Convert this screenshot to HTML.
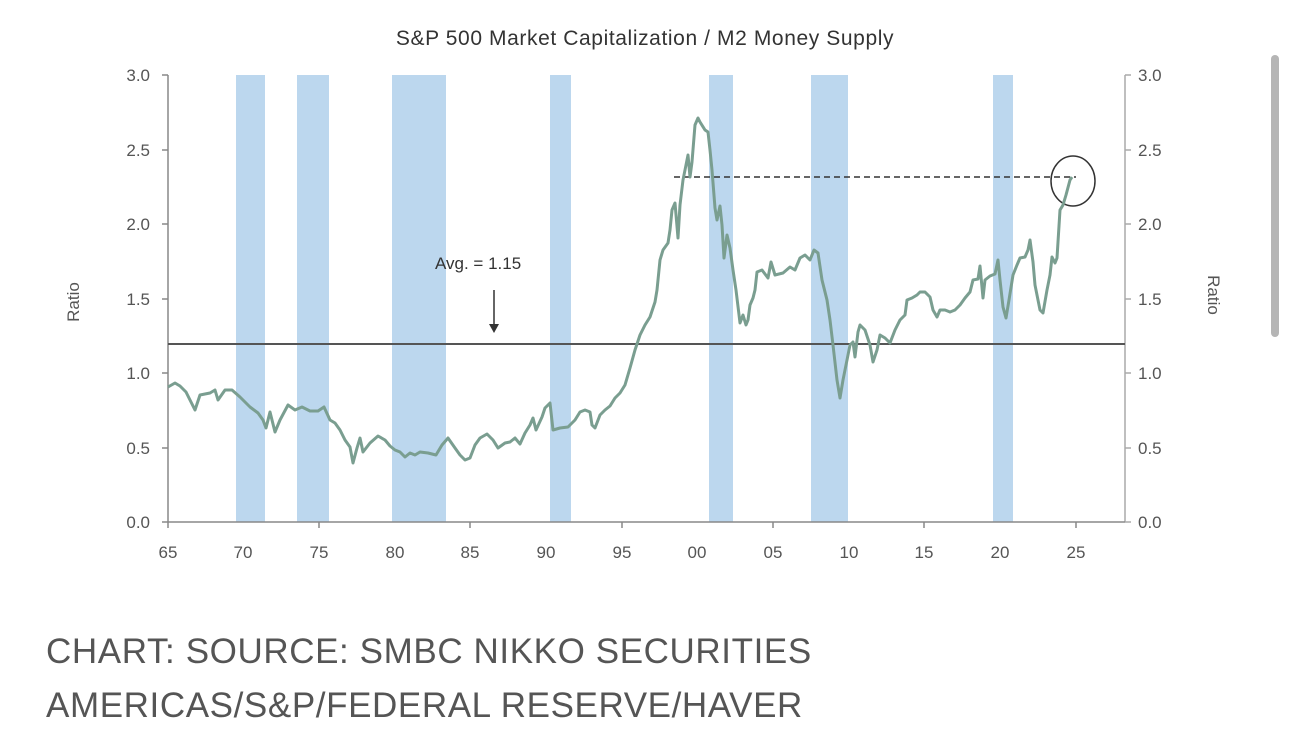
<!DOCTYPE html>
<html><head><style>
body{margin:0;width:1290px;height:733px;background:#fff;overflow:hidden;font-family:"Liberation Sans",sans-serif;}
.cap{position:absolute;left:46px;font-size:35px;color:#555;letter-spacing:0.6px;}
</style></head><body>
<svg width="1290" height="733" style="position:absolute;left:0;top:0" font-family="Liberation Sans, sans-serif">
<text x="645" y="45" text-anchor="middle" font-size="21" letter-spacing="0.6" fill="#333">S&amp;P 500 Market Capitalization / M2 Money Supply</text>
<g fill="#bcd7ee">
<rect x="236" y="75" width="29" height="447"/>
<rect x="297" y="75" width="32" height="447"/>
<rect x="392" y="75" width="54" height="447"/>
<rect x="550" y="75" width="21" height="447"/>
<rect x="709" y="75" width="24" height="447"/>
<rect x="811" y="75" width="37" height="447"/>
<rect x="993" y="75" width="20" height="447"/>
</g>
<g stroke="#888" stroke-width="1.5" fill="none">
<line x1="168" y1="75" x2="168" y2="522"/>
<line x1="1125" y1="75" x2="1125" y2="522" stroke="#aaa"/>
<line x1="168" y1="522" x2="1125" y2="522"/>
<path d="M162 75H168M162 150H168M162 224H168M162 299H168M162 373H168M162 448H168M162 522H168"/>
<path d="M1125 75H1131M1125 150H1131M1125 224H1131M1125 299H1131M1125 373H1131M1125 448H1131M1125 522H1131" stroke="#aaa"/>
<path d="M168 522v6M319 522v6M470 522v6M622 522v6M773 522v6M924 522v6M1076 522v6"/>
</g>
<g font-size="17" fill="#555" text-anchor="end">
<text x="150" y="81">3.0</text><text x="150" y="156">2.5</text><text x="150" y="230">2.0</text><text x="150" y="305">1.5</text><text x="150" y="379">1.0</text><text x="150" y="454">0.5</text><text x="150" y="528">0.0</text>
</g>
<g font-size="17" fill="#555">
<text x="1138" y="81">3.0</text><text x="1138" y="156">2.5</text><text x="1138" y="230">2.0</text><text x="1138" y="305">1.5</text><text x="1138" y="379">1.0</text><text x="1138" y="454">0.5</text><text x="1138" y="528">0.0</text>
</g>
<g font-size="17" fill="#555" text-anchor="middle">
<text x="168" y="558">65</text><text x="243" y="558">70</text><text x="319" y="558">75</text><text x="395" y="558">80</text><text x="470" y="558">85</text><text x="546" y="558">90</text><text x="622" y="558">95</text><text x="697" y="558">00</text><text x="773" y="558">05</text><text x="849" y="558">10</text><text x="924" y="558">15</text><text x="1000" y="558">20</text><text x="1076" y="558">25</text>
</g>
<text transform="translate(79,302) rotate(-90)" font-size="17" fill="#555" text-anchor="middle">Ratio</text>
<text transform="translate(1208,295) rotate(90)" font-size="17" fill="#555" text-anchor="middle">Ratio</text>
<line x1="168" y1="344" x2="1125" y2="344" stroke="#555" stroke-width="2"/>
<line x1="674" y1="177" x2="1076" y2="177" stroke="#333" stroke-width="1.5" stroke-dasharray="6,4"/>
<ellipse cx="1073" cy="181" rx="22" ry="25" fill="none" stroke="#333" stroke-width="1.5"/>
<text x="435" y="269" font-size="17" fill="#333">Avg. = 1.15</text>
<line x1="494" y1="290" x2="494" y2="326" stroke="#333" stroke-width="1.5"/>
<path d="M489 324L499 324L494 333Z" fill="#333"/>
<polyline fill="none" stroke="#7a9e90" stroke-width="3" stroke-linejoin="round" points="168,387 175,383 180,386 186,392 195,410 200,395 210,393 215,390 218,400 225,390 232,390 240,397 250,407 258,413 263,420 266,428 270,412 275,432 280,420 288,405 295,410 302,407 310,411 318,411 324,407 330,420 335,423 340,430 345,440 350,447 353,463 357,448 360,438 363,452 370,443 378,436 385,440 390,446 395,450 400,452 405,457 410,453 415,455 420,452 428,453 436,455 442,445 448,438 455,448 460,455 465,460 470,458 475,445 480,438 487,434 493,440 498,448 505,443 510,442 515,438 520,444 525,433 530,425 533,418 536,430 542,417 545,408 550,403 553,430 560,428 568,427 575,420 580,412 585,410 590,412 592,425 595,428 600,415 605,410 610,406 615,398 620,393 625,385 630,368 635,350 640,335 645,325 650,317 655,302 657,290 660,260 663,250 668,243 670,230 672,210 675,203 678,238 680,205 683,180 686,165 688,155 690,177 692,162 695,125 698,118 700,122 705,130 708,132 710,150 712,170 715,208 717,220 720,206 722,225 724,258 727,235 730,248 733,270 736,290 740,323 743,315 746,325 748,320 750,305 753,298 755,290 757,272 762,270 768,278 771,262 775,275 783,273 790,267 795,270 800,258 805,255 810,260 814,250 818,253 822,280 827,300 830,320 833,345 837,380 840,398 843,380 847,360 850,345 853,342 855,357 858,332 860,325 865,330 870,345 873,362 877,350 880,335 885,338 890,343 895,330 900,320 905,315 907,300 912,298 917,295 920,292 925,292 930,297 933,310 937,317 940,310 945,310 950,312 955,310 960,305 965,298 970,292 973,280 978,279 980,266 983,298 985,280 990,276 995,274 998,260 1000,280 1003,307 1006,318 1009,300 1013,275 1017,265 1020,258 1025,257 1028,250 1030,240 1033,262 1035,285 1040,310 1043,313 1047,290 1050,275 1052,257 1055,263 1057,258 1060,210 1063,205 1066,195 1070,180 1072,177"/>
<rect x="1271" y="55" width="8" height="282" rx="4" fill="#b5b5b5"/>
</svg>
<div class="cap" style="top:632px">CHART: SOURCE: SMBC NIKKO SECURITIES</div>
<div class="cap" style="top:686px">AMERICAS/S&amp;P/FEDERAL RESERVE/HAVER</div>
</body></html>
